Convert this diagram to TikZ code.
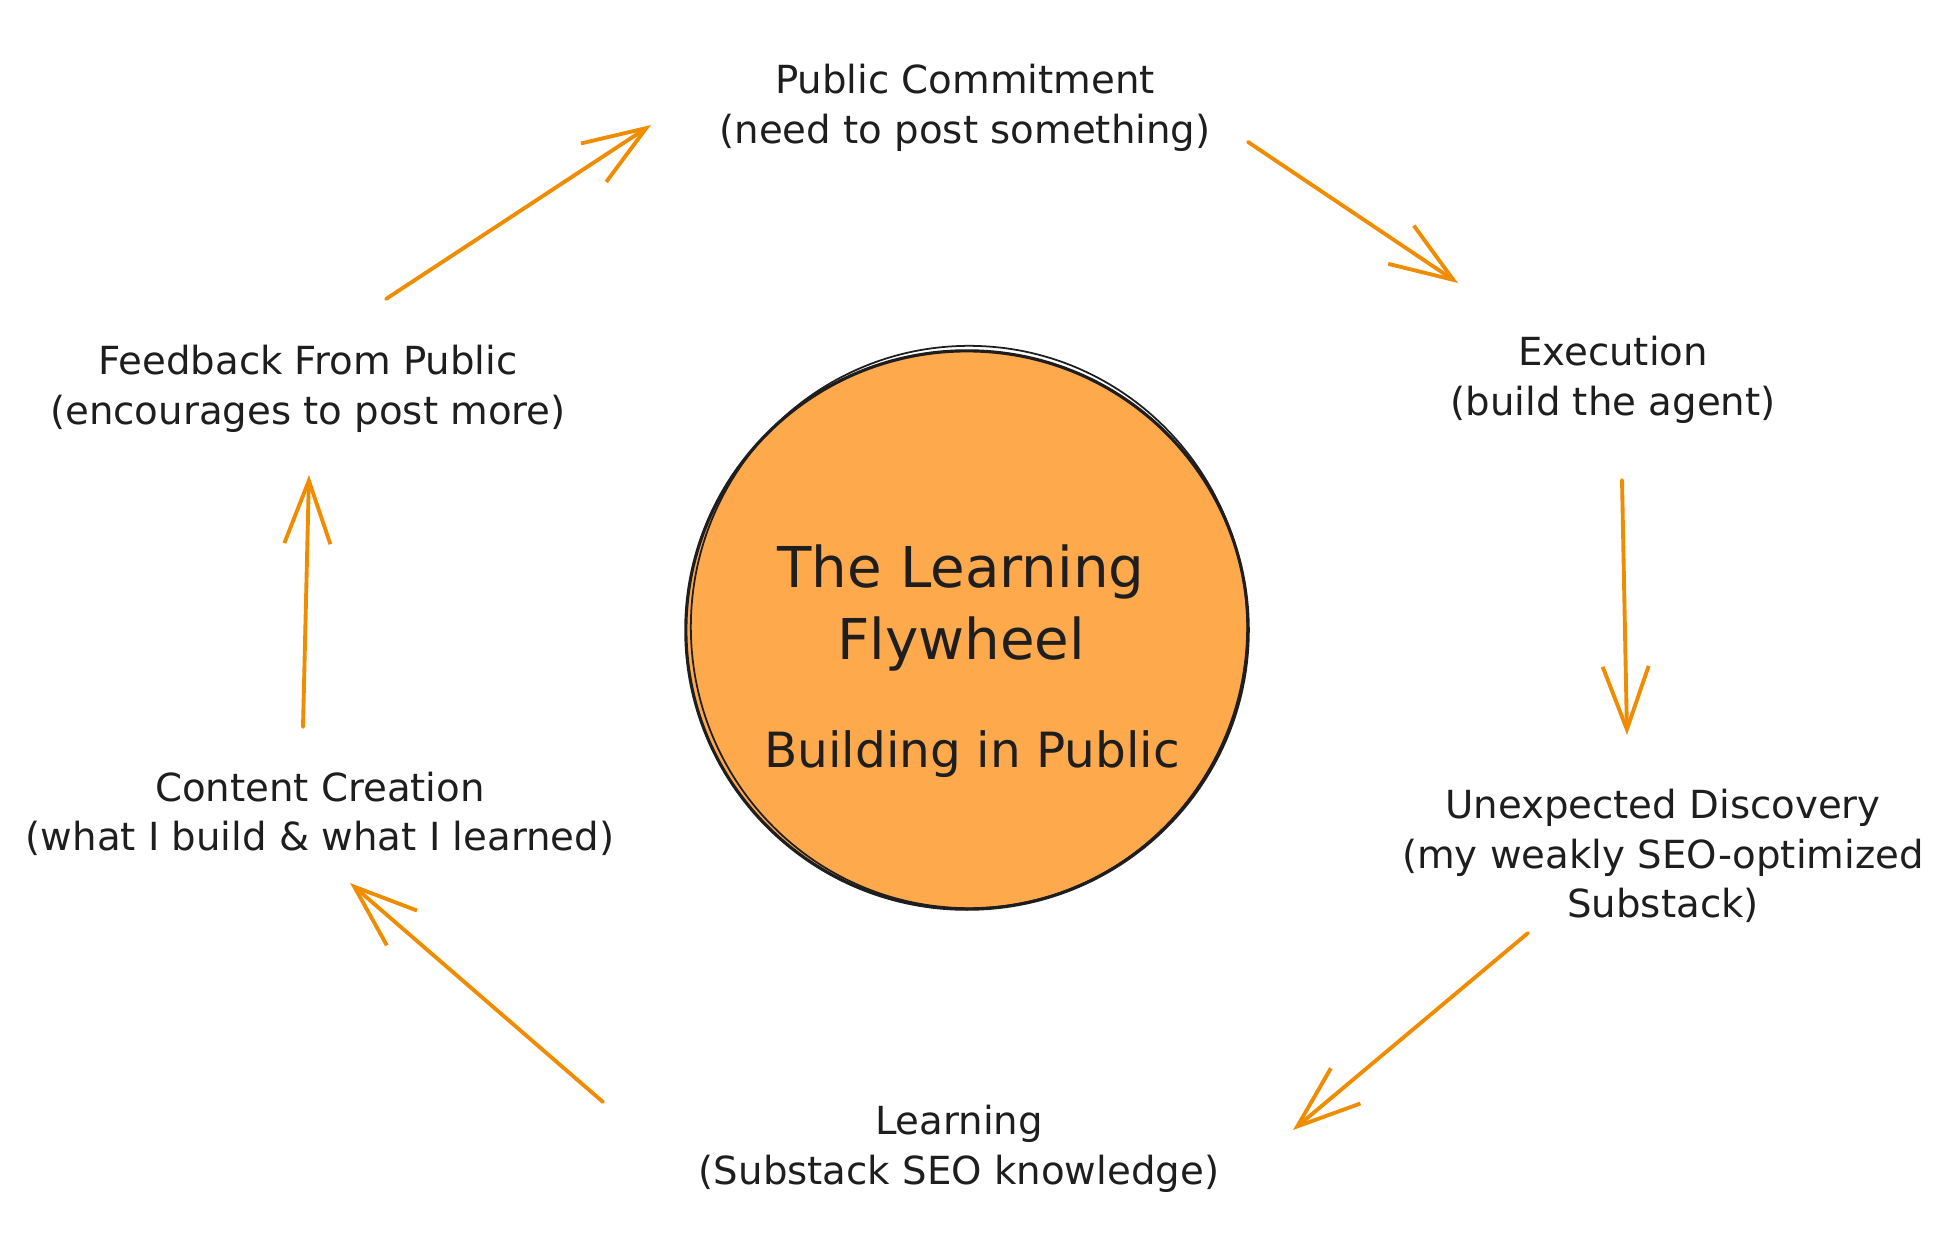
\documentclass[tikz,border=0pt]{standalone}
\usepackage{fontspec}
\setmainfont{DejaVu Sans}
\usetikzlibrary{arrows.meta}

\definecolor{wheelfill}{HTML}{FFA94D}
\definecolor{flowc}{HTML}{F08C00}
\definecolor{ink}{HTML}{1E1E1E}

\tikzset{
  stagelabel/.style={align=center, text=ink, inner sep=2pt, font=\fontsize{11}{14.1}\selectfont},
  flow/.style={draw=flowc, line width=1.1pt, line cap=round,
    -{Straight Barb[length=6.3mm, width=4.6mm, line width=1.1pt]}},
}

\begin{document}
\begin{tikzpicture}[x=0.01cm, y=-0.01cm]
  \useasboundingbox (0,0) rectangle (1946,1252);

  % the wheel
  \node[circle, fill=wheelfill, minimum size=5.6cm, inner sep=0pt] (wheel) at (967,630) {};
  \draw[ink, line width=0.9pt] (wheel.center) ellipse [x radius=2.81cm, y radius=2.79cm];
  \draw[ink, line width=0.5pt] ([shift={(2,-3)}]wheel.center) ellipse [x radius=2.78cm, y radius=2.81cm];

  \node[align=center, text=ink, font=\fontsize{16}{20.4}\selectfont] (title) at (961,608) {The Learning\\Flywheel};
  \node[text=ink, font=\fontsize{13.8}{17}\selectfont] (sub) at (972,754) {Building in Public};

  % stages
  \node[stagelabel] (pub) at (965,108) {Public Commitment\\(need to post something)};
  \node[stagelabel] (exe) at (1613,380) {Execution\\(build the agent)};
  \node[stagelabel] (disc) at (1663,856) {Unexpected Discovery\\(my weakly SEO-optimized\\Substack)};
  \node[stagelabel] (learn) at (959,1149) {Learning\\(Substack SEO knowledge)};
  \node[stagelabel] (cont) at (320,814) {Content Creation\\(what I build \& what I learned)};
  \node[stagelabel] (feed) at (308,389) {Feedback From Public\\(encourages to post more)};

  % arrow ends
  \coordinate (feedOut) at (386,299);   \coordinate (pubIn) at (651,125);
  \coordinate (pubOut) at (1248,142);   \coordinate (exeIn) at (1458,283);
  \coordinate (exeOut) at (1622,480);   \coordinate (discIn) at (1627,735);
  \coordinate (discOut) at (1528,933);  \coordinate (learnIn) at (1293,1130);
  \coordinate (learnOut) at (603,1102); \coordinate (contIn) at (350,883);
  \coordinate (contOut) at (303,727);   \coordinate (feedIn) at (309,475);

  \foreach \s/\t in {feedOut/pubIn, pubOut/exeIn, exeOut/discIn, discOut/learnIn, learnOut/contIn, contOut/feedIn}
    \draw[flow] (\s) -- (\t);
\end{tikzpicture}
\end{document}
